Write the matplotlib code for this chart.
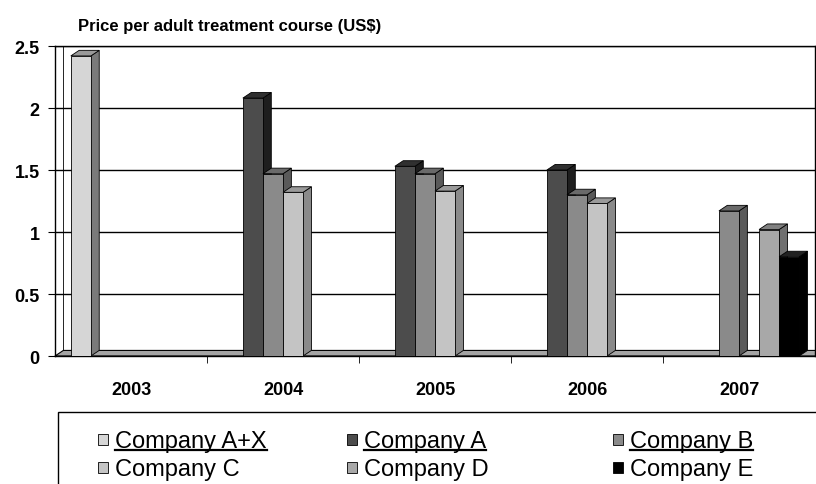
import matplotlib
matplotlib.use('Agg')
import matplotlib.pyplot as plt
from matplotlib.patches import Rectangle
from matplotlib.lines import Line2D
import numpy as np

plt.rcParams['font.family'] = ['Liberation Sans', 'DejaVu Sans']

# ---- data ----
years = ['2003', '2004', '2005', '2006', '2007']
series_names = ['Company A+X', 'Company A', 'Company B',
                'Company C', 'Company D', 'Company E']
company_ax = [2.42, 0, 0, 0, 0]
company_a = [0, 2.08, 1.53, 1.50, 0]
company_b = [0, 1.47, 1.47, 1.30, 1.17]
company_c = [0, 1.32, 1.33, 1.23, 0]
company_d = [0, 0, 0, 0, 1.02]
company_e = [0, 0, 0, 0, 0.80]
y_ticks = [0, 0.5, 1, 1.5, 2, 2.5]
y_labels = ['0', '0.5', '1', '1.5', '2', '2.5']

all_series = [company_ax, company_a, company_b, company_c, company_d, company_e]
front_colors = ['#d6d6d6', '#4c4c4c', '#8a8a8a', '#c4c4c4', '#a8a8a8', '#000000']
side_colors = ['#7a7a7a', '#1e1e1e', '#5a5a5a', '#8a8a8a', '#707070', '#000000']
top_colors = ['#9a9a9a', '#303030', '#6a6a6a', '#9a9a9a', '#808080', '#222222']

# ---- figure ----
fig = plt.figure(figsize=(8.16, 4.85), dpi=100)
ax = fig.add_axes([55 / 816, 1 - 357 / 485, 760 / 816, 310 / 485])

ax.set_xlim(-0.5, 4.5)
ax.set_ylim(0, 2.5)

# depth of the fake 3-D effect, in data units
dx = 0.055
dy = 0.045

# floor
ax.fill([-0.5, 4.5, 4.5 + dx, -0.5 + dx], [0, 0, dy, dy],
        facecolor='#a4a4a4', edgecolor='black', linewidth=0.8, zorder=2,
        clip_on=False)

x = np.arange(len(years))
n = len(all_series)
width = 0.132

z = 3
for i, vals in enumerate(all_series):
    offs = (i - (n - 1) / 2) * width
    for j, v in enumerate(vals):
        if v <= 0:
            continue
        x0 = x[j] + offs - width / 2
        x1 = x0 + width
        # right side face
        ax.fill([x1, x1 + dx, x1 + dx, x1], [0, dy, v + dy, v],
                facecolor=side_colors[i], edgecolor='black', linewidth=0.6,
                zorder=z + j * 10 + i)
        # top face
        ax.fill([x0, x0 + dx, x1 + dx, x1], [v, v + dy, v + dy, v],
                facecolor=top_colors[i], edgecolor='black', linewidth=0.6,
                zorder=z + j * 10 + i)
    ax.bar(x + offs, vals, width, color=front_colors[i], edgecolor='black',
           linewidth=0.6)

# front faces go over the side face of the bar on their left
for k, cont in enumerate(ax.containers):
    for j, rect in enumerate(cont.patches):
        rect.set_zorder(z + j * 10 + k + 0.5)
        if rect.get_height() <= 0:
            rect.set_visible(False)

# grid and axes
ax.set_yticks(y_ticks)
ax.set_yticklabels(y_labels, fontsize=13, fontweight='bold')
ax.yaxis.grid(True, color='black', linewidth=1)
ax.set_axisbelow(True)
ax.tick_params(axis='y', direction='out', length=5, pad=6)

ax.set_xticks(x)
ax.set_xticklabels(years, fontsize=13, fontweight='bold')
ax.set_xticks(x[:-1] + 0.5, minor=True)
ax.tick_params(axis='x', which='major', length=0, pad=18)
ax.tick_params(axis='x', which='minor', direction='out', length=5)

for s in ax.spines.values():
    s.set_linewidth(1)
    s.set_color('black')

ax.axvline(-0.5 + dx, color='black', linewidth=0.6, zorder=1)

fig.text(78 / 816, 1 - 31 / 485, 'Price per adult treatment course (US$)',
         fontsize=12, fontweight='bold', va='baseline', ha='left')

# ---- legend box ----
fig.add_artist(Rectangle((58 / 816, -0.05), 0.99, (490 - 413) / 485 + 0.05 - 5 / 485,
                         transform=fig.transFigure, facecolor='white',
                         edgecolor='black', linewidth=1))

col_x = [98, 347, 613]
row_base = [448, 476]
texts = []
for i, name in enumerate(series_names):
    r = i // 3
    c = i % 3
    fig.add_artist(Rectangle((col_x[c] / 816, 1 - (row_base[r] - 2) / 485),
                             10 / 816, 11 / 485, transform=fig.transFigure,
                             facecolor=front_colors[i], edgecolor='black',
                             linewidth=0.6))
    t = fig.text((col_x[c] + 17) / 816, 1 - row_base[r] / 485, name,
                 fontsize=17, va='baseline', ha='left')
    texts.append((t, r))

# first legend row is underlined in the original
fig.canvas.draw()
renderer = fig.canvas.get_renderer()
for t, r in texts:
    if r != 0:
        continue
    bb = t.get_window_extent(renderer)
    yy = 1 - (row_base[r] + 3) / 485
    fig.add_artist(Line2D([bb.x0 / fig.bbox.width, bb.x1 / fig.bbox.width],
                          [yy, yy], transform=fig.transFigure,
                          color='black', linewidth=1.6))

fig.savefig('out.png', dpi=100)
